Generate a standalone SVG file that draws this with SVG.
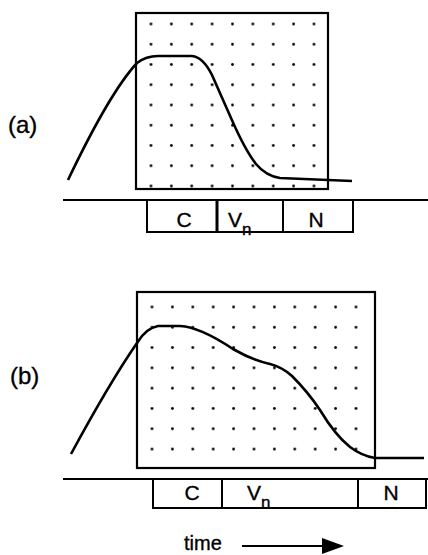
<svg xmlns="http://www.w3.org/2000/svg" width="428" height="555" viewBox="0 0 428 555">
<style>
.frame{fill:none;stroke:#000;stroke-width:2.2}
.curve{fill:none;stroke:#000;stroke-width:2.6;stroke-linejoin:round;stroke-linecap:butt}
.base{stroke:#000;stroke-width:2.2;fill:none}
.seg{fill:#fff;stroke:#000;stroke-width:2}
.lbl{font-family:"Liberation Sans",Arial,sans-serif;fill:#000;stroke:#000;stroke-width:0.35}
.t{font-size:21px}
.c{text-anchor:middle}
.sub{font-size:17px}
.panel{font-size:24px}
</style>
<defs>
<pattern id="dotsA" patternUnits="userSpaceOnUse" x="140.8" y="13.9" width="20.375" height="20.25">
<circle cx="10.19" cy="10.12" r="1.4" fill="#000"/>
</pattern>
<pattern id="dotsB" patternUnits="userSpaceOnUse" x="141.8" y="296.85" width="20.4" height="20.3">
<circle cx="10.2" cy="10.15" r="1.4" fill="#000"/>
</pattern>
</defs>
<g id="panel-a">
<text class="lbl panel" x="8" y="133">(a)</text>
<rect x="141" y="14" width="183" height="182" fill="url(#dotsA)"/>
<rect class="frame" x="136" y="13" width="192" height="176"/>
<path class="curve" d="M68,180 Q110,92 137,63 Q146,56 158,56 L192,56 Q203,57 212,75 L231,118 Q245,150 256,164 Q266,176 280,178 L352,181"/>
</g>
<g id="timeline-a">
<line class="base" x1="63" y1="200" x2="428" y2="200"/>
<rect class="seg" x="147" y="200" width="70" height="32"/>
<rect class="seg" x="217" y="200" width="66" height="32"/>
<rect class="seg" x="283" y="200" width="70" height="32"/>
<line x1="217" y1="200" x2="217" y2="232" stroke="#000" stroke-width="3"/>
<text class="lbl t c" x="184" y="227">C</text>
<text class="lbl t" x="228" y="227">V</text>
<text class="lbl sub" x="242" y="235">n</text>
<text class="lbl t c" x="316" y="227">N</text>
</g>
<g id="panel-b">
<text class="lbl panel" x="10" y="384">(b)</text>
<rect x="142" y="297" width="224" height="162" fill="url(#dotsB)"/>
<rect class="frame" x="137" y="292" width="238" height="176"/>
<path class="curve" d="M71,454 Q110,382 137,343 Q146,328 158,326 L180,326 Q200,327 233,349 Q252,360 270,364 Q282,367 292,376 Q308,392 320,410 Q335,435 350,447 Q362,456 375,458 L424,458"/>
</g>
<g id="timeline-b">
<line class="base" x1="63" y1="479" x2="428" y2="479"/>
<rect class="seg" x="153" y="479" width="69" height="29"/>
<rect class="seg" x="222" y="479" width="136" height="29"/>
<rect class="seg" x="358" y="479" width="68" height="29"/>
<text class="lbl t c" x="192" y="500">C</text>
<text class="lbl t" x="247" y="500">V</text>
<text class="lbl sub" x="261" y="508">n</text>
<text class="lbl t c" x="391" y="500">N</text>
</g>
<g id="time-axis">
<text class="lbl" x="184" y="550" font-size="20">time</text>
<g id="connectors">
<line x1="242" y1="546" x2="326" y2="546" stroke="#000" stroke-width="2"/>
<polygon points="322,538 344,546 322,554" fill="#000"/>
</g>
</g>
</svg>
